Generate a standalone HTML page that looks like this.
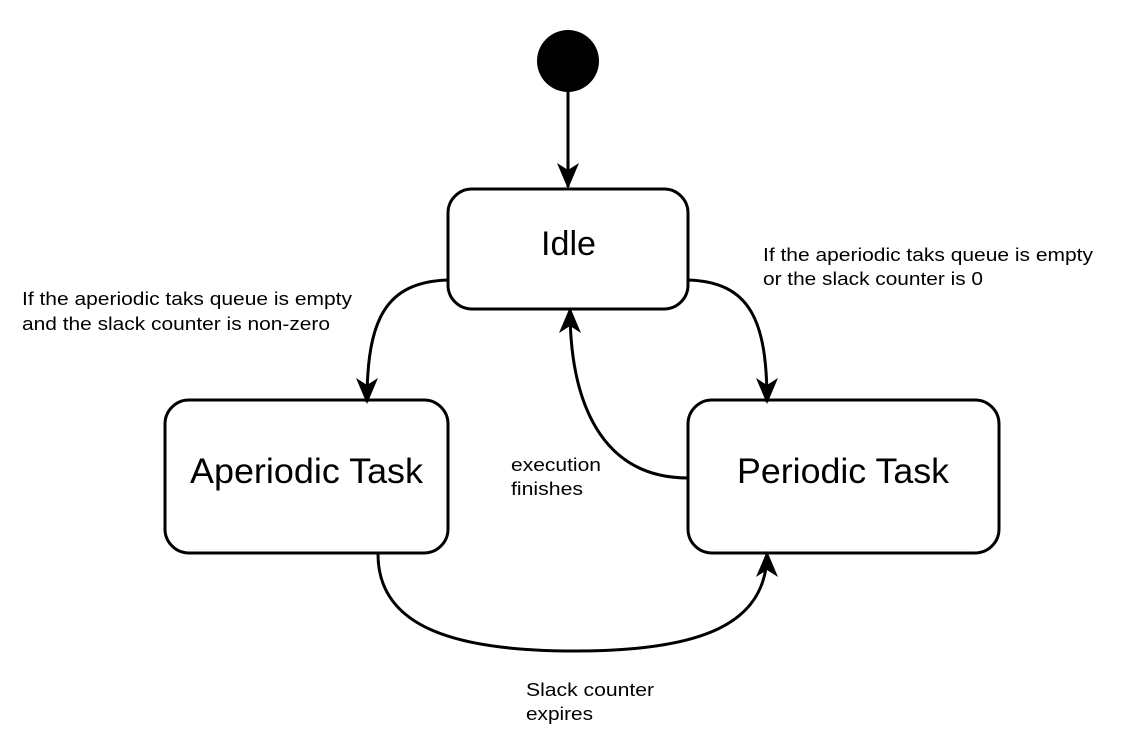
<!DOCTYPE html>
<html><head><style>body{margin:0;background:#fff}svg{display:block}</style></head><body>
<svg width="1126" height="738" viewBox="0 0 1126 738" xmlns="http://www.w3.org/2000/svg" font-family="Liberation Sans, Arial, sans-serif">
<defs><marker id="a" viewBox="0 0 26 26" refX="24" refY="13" markerWidth="26" markerHeight="26" markerUnits="userSpaceOnUse" orient="auto"><path d="M0,2 L26,13 L0,24 L7,13 Z" fill="#000"/></marker></defs>
<circle cx="568" cy="61" r="31" fill="#000"/>
<g fill="none" stroke="#000" stroke-width="3">
<path d="M568,92 L568,187" marker-end="url(#a)"/>
<rect x="448" y="189" width="240" height="120" rx="24"/>
<rect x="165" y="400" width="283" height="153" rx="24"/>
<rect x="688" y="400" width="311" height="153" rx="24"/>
<path d="M448,280 C385,282 367,320 367,402" marker-end="url(#a)"/>
<path d="M688,280 C750,282 767,320 767,402" marker-end="url(#a)"/>
<path d="M688,478 C600,478 570,400 570,309" marker-end="url(#a)"/>
<path d="M378,554 C378,625 450,651 575,651 C700,651 767,625 767,553" marker-end="url(#a)"/>
</g>
<g fill="#000">
<text x="541" y="255" font-size="34" textLength="55" lengthAdjust="spacingAndGlyphs">Idle</text>
<text x="190" y="483" font-size="35" textLength="233" lengthAdjust="spacingAndGlyphs">Aperiodic Task</text>
<text x="737" y="483" font-size="35" textLength="212" lengthAdjust="spacingAndGlyphs">Periodic Task</text>
<g font-size="18">
<text x="22" y="305" textLength="330" lengthAdjust="spacingAndGlyphs">If the aperiodic taks queue is empty</text>
<text x="22" y="330" textLength="308" lengthAdjust="spacingAndGlyphs">and the slack counter is non-zero</text>
<text x="763" y="261" textLength="330" lengthAdjust="spacingAndGlyphs">If the aperiodic taks queue is empty</text>
<text x="763" y="285" textLength="220" lengthAdjust="spacingAndGlyphs">or the slack counter is 0</text>
<text x="511" y="471" textLength="90" lengthAdjust="spacingAndGlyphs">execution</text>
<text x="511" y="495" textLength="72" lengthAdjust="spacingAndGlyphs">finishes</text>
<text x="526" y="696" textLength="128" lengthAdjust="spacingAndGlyphs">Slack counter</text>
<text x="526" y="720" textLength="67" lengthAdjust="spacingAndGlyphs">expires</text>
</g></g>
</svg>
</body></html>
